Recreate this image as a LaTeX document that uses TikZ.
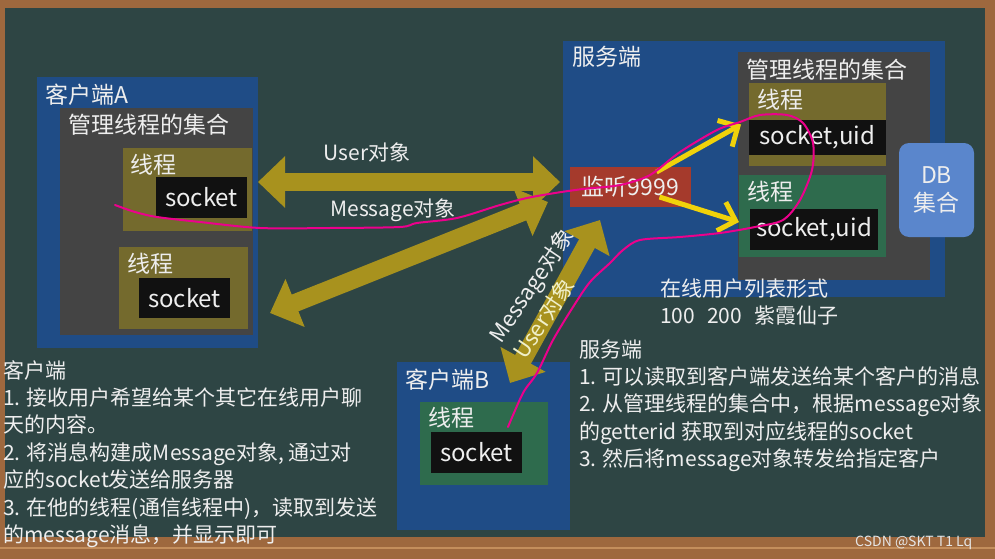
\documentclass[tikz,border=0pt]{standalone}
\usepackage{fontspec}
\setmainfont{Noto Sans CJK SC}
\usepackage{xcolor}
\usepackage{tikz}
\usetikzlibrary{arrows.meta}
\definecolor{wood}{RGB}{158,104,62}
\definecolor{woodlight}{RGB}{196,142,92}
\definecolor{board}{RGB}{46,69,68}
\definecolor{boxblue}{RGB}{31,76,134}
\definecolor{mgrgray}{RGB}{68,68,68}
\definecolor{throlive}{RGB}{116,106,45}
\definecolor{thrgreen}{RGB}{46,107,77}
\definecolor{sockblack}{RGB}{17,17,17}
\definecolor{listenred}{RGB}{165,58,44}
\definecolor{dbblue}{RGB}{90,134,204}
\definecolor{arrowgold}{RGB}{168,146,30}
\definecolor{arrowyellow}{RGB}{240,210,10}
\definecolor{chalk}{RGB}{238,238,238}

\begin{document}
\begin{tikzpicture}[x=1pt,y=-1pt,
  box/.style={inner sep=0pt,outer sep=0pt},
  lbl/.style={inner sep=0pt,anchor=west,text=chalk,font=\fontsize{23}{26}\selectfont},
  sock/.style={lbl,anchor=center,font=\fontsize{24}{26}\selectfont},
  note/.style={inner sep=0pt,anchor=base west,align=left,text=chalk,font=\fontsize{21}{27.4}\selectfont},
  bigarrow/.style={draw=arrowgold,line width=18pt,{Triangle[length=27pt,width=50pt]}-{Triangle[length=27pt,width=50pt]}},
  ptr/.style={draw=arrowyellow,line width=5pt,-{Straight Barb[length=15pt,width=30pt]}}]
  \useasboundingbox (0,0) rectangle (995,559);
  % frame and board
  \fill[wood] (0,0) rectangle (995,559);
  \draw[woodlight,line width=2pt] (0,548) -- (995,548);
  \fill[board] (5,8) rectangle (985,537);

  % client A
  \node[box,fill=boxblue,minimum width=221pt,minimum height=271pt] (clientA) at (147.5,212.5) {};
  \node[box,fill=mgrgray,minimum width=193pt,minimum height=227pt] (mgrA) at (156.5,221.5) {};
  \node[box,fill=throlive,minimum width=129pt,minimum height=83pt] (thrA1) at (187.5,189.5) {};
  \node[box,fill=sockblack,minimum width=91pt,minimum height=41pt] (sockA1) at (201.5,197.5) {};
  \node[box,fill=throlive,minimum width=129pt,minimum height=82pt] (thrA2) at (183.5,288) {};
  \node[box,fill=sockblack,minimum width=91pt,minimum height=40pt] (sockA2) at (184.5,298) {};
  \node[lbl] (titleA) at (45,95) {客户端A};
  \node[lbl] (mgrAtxt) at (68,125) {管理线程的集合};
  \node[lbl] (thrA1txt) at (130,165) {线程};
  \node[lbl] (thrA2txt) at (127,264) {线程};
  \node[sock] at (sockA1) {socket};
  \node[sock] at (sockA2) {socket};

  % server
  \node[box,fill=boxblue,minimum width=382pt,minimum height=256pt] (server) at (754,169) {};
  \node[box,fill=mgrgray,minimum width=192pt,minimum height=228pt] (mgrS) at (834,166) {};
  \node[box,fill=throlive,minimum width=137pt,minimum height=83pt] (thrS1) at (817.5,124.5) {};
  \node[box,fill=sockblack,minimum width=137pt,minimum height=35pt] (sockS1) at (817.5,137.5) {};
  \node[box,fill=thrgreen,minimum width=147pt,minimum height=82pt] (thrS2) at (812.5,216) {};
  \node[box,fill=sockblack,minimum width=128pt,minimum height=41pt] (sockS2) at (814,229.5) {};
  \node[box,fill=dbblue,rounded corners=10pt,minimum width=75pt,minimum height=94pt,
    text=chalk,align=center,font=\fontsize{23}{28}\selectfont] (db) at (936.5,190) {DB\\集合};
  \node[box,fill=listenred,minimum width=121pt,minimum height=40pt] (listen) at (630.5,187) {};
  \node[lbl] (titleS) at (572,57) {服务端};
  \node[lbl] (mgrStxt) at (746,70) {管理线程的集合};
  \node[lbl] (thrS1txt) at (757,100) {线程};
  \node[lbl] (thrS2txt) at (747,192) {线程};
  \node[sock] at (sockS1) {socket,uid};
  \node[sock] at (sockS2) {socket,uid};
  \node[lbl] at (listen) [anchor=center] {监听9999};
  \node[note] (online) at (660,323.4) {在线用户列表形式\\100\hspace{12pt}200\hspace{12pt}紫霞仙子};

  % client B
  \node[box,fill=boxblue,minimum width=173pt,minimum height=168pt] (clientB) at (483.5,446) {};
  \node[box,fill=thrgreen,minimum width=128pt,minimum height=83pt] (thrB) at (484,443.5) {};
  \node[box,fill=sockblack,minimum width=91pt,minimum height=41pt] (sockB) at (476.5,452.5) {};
  \node[lbl] (titleB) at (405,380) {客户端B};
  \node[lbl] (thrBtxt) at (428,418) {线程};
  \node[sock] at (sockB) {socket};

  % object transfer
  \draw[bigarrow] ([yshift=30.5pt]clientA.east) -- ([xshift=-3pt,yshift=-13pt]server.west);
  \draw[bigarrow] ([xshift=12pt,yshift=-100.5pt]clientA.east) -- ([xshift=-15pt,yshift=-33pt]server.west);
  \draw[bigarrow] ([xshift=26.5pt,yshift=-21pt]clientB.north) -- ([xshift=37pt,yshift=-51pt]server.west);
  \draw[ptr] ([xshift=26pt,yshift=15pt]listen.center) -- ([xshift=-8pt]thrS1.west);
  \draw[ptr] ([xshift=29pt,yshift=-10pt]listen.center) -- ([yshift=-6pt]thrS2.west);
  \node[lbl,anchor=center,font=\fontsize{21}{24}\selectfont] (userA) at (367,152) {User对象};
  \node[lbl,anchor=center,font=\fontsize{21}{24}\selectfont] (msgA) at (393,210) {Message对象};
  \node[lbl,anchor=center,rotate=56,align=left,font=\fontsize{22}{29}\selectfont] (objB) at (543,293.4)
    {Message对象\\{\color{chalk!85!yellow}User对象}};

  % notes
  \node[note] (notesA) at (3,542.4) {客户端\\1. 接收用户希望给某个其它在线用户聊\\天的内容。\\2. 将消息构建成Message对象, 通过对\\应的socket发送给服务器\\3. 在他的线程(通信线程中)，读取到发送\\的message消息，并显示即可};
  \node[note] (notesS) at (579,466.6) {服务端\\1. 可以读取到客户端发送给某个客户的消息\\2. 从管理线程的集合中，根据message对象\\的getterid 获取到对应线程的socket\\3. 然后将message对象转发给指定客户};
  \node[inner sep=0pt,anchor=west,text=white!80!gray,font=\fontsize{14}{15}\selectfont] (mark) at (855,543) {CSDN @SKT T1 Lq};

  % pen stroke
  \draw[magenta,line width=2pt,line cap=round] plot[smooth] coordinates {(115,205) (135,212) (157,217) (200,222) (260,228) (330,228) (400,227) (417,223) (457,218) (500,205) (527,198) (555,193) (583,189) (620,185) (650,175) (680,152) (717,130) (740,122) (760,115) (787,115) (803,123) (813,143) (812,170) (800,200) (783,220) (755,227) (720,233) (680,237) (640,240) (623,250) (610,263) (590,282) (573,307) (553,340) (537,373) (523,393) (508,427)};
\end{tikzpicture}
\end{document}
